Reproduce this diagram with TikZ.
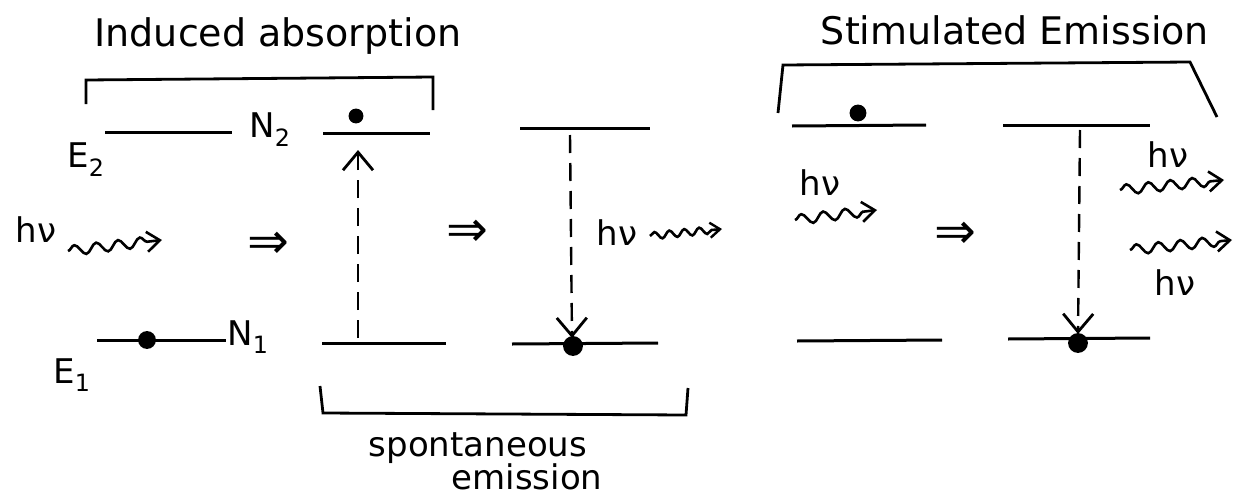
\documentclass[tikz,border=0pt]{standalone}
\usepackage{fontspec}
\setmainfont{DejaVu Sans}
\usetikzlibrary{arrows.meta,decorations.pathmorphing}
\begin{document}
\begin{tikzpicture}[x=1pt,y=-1pt,line width=2.8pt,
  level/.style={line width=3pt},
  brk/.style={line width=2.8pt},
  electron/.style={circle,fill=black,draw=black,inner sep=0pt,minimum size=#1},
  pump/.style={line width=2.4pt,dashed,dash pattern=on 18pt off 10pt,-{Straight Barb[length=18pt,width=30pt,line width=2.8pt]}},
  photon/.style={line width=2.6pt,decorate,decoration={snake,amplitude=5pt,segment length=22pt,post length=9pt},-{Straight Barb[length=13pt,width=20pt,line width=2.6pt]}},
  title/.style={font=\fontsize{38}{44}\selectfont},
  lbl/.style={font=\fontsize{34}{38}\selectfont,inner sep=0pt},
  implies/.style={font=\fontsize{50}{54}\selectfont,inner sep=0pt}]
\useasboundingbox[fill=white] (0,0) rectangle (1254,501);

% titles
\node[title] (t1) at (278,36) {Induced absorption};
\node[title] (t2) at (1015,30) {Stimulated Emission};

% brackets
\coordinate (b1a) at (86,104); \coordinate (b1b) at (86,80);
\coordinate (b1c) at (433,77); \coordinate (b1d) at (433,110);
\draw[brk] (b1a) -- (b1b) -- (b1c) -- (b1d);
\coordinate (b2a) at (778,113); \coordinate (b2b) at (783,65);
\coordinate (b2c) at (1190,62); \coordinate (b2d) at (1217,117);
\draw[brk] (b2a) -- (b2b) -- (b2c) -- (b2d);
\coordinate (b3a) at (320,386); \coordinate (b3b) at (323,413);
\coordinate (b3c) at (686,415); \coordinate (b3d) at (688,388);
\draw[brk] (b3a) -- (b3b) -- (b3c) -- (b3d);
\node[lbl,font=\fontsize{34}{38}\selectfont] (sp1) at (478,448) {spontaneous};
\node[lbl,font=\fontsize{34}{38}\selectfont] (sp2) at (527,477) {emission};

% ---------- Induced absorption ----------
\coordinate (u1a) at (105,132); \coordinate (u1b) at (232,132);
\draw[level] (u1a) -- (u1b);
\node[lbl] (n2) at (270,130) {N\textsubscript{2}};
\node[lbl] (e2) at (86,160) {E\textsubscript{2}};
\coordinate (u2a) at (323,133); \coordinate (u2b) at (430,133);
\draw[level] (u2a) -- (u2b);
\node[electron=12pt] (d1) at (356,116) {};
\coordinate (l1a) at (97,340); \coordinate (l1b) at (226,340);
\draw[level] (l1a) -- (l1b);
\node[electron=15pt] (d0) at (147,340) {};
\node[lbl] (n1) at (248,337) {N\textsubscript{1}};
\node[lbl] (e1) at (72,375) {E\textsubscript{1}};
\coordinate (l2a) at (322,343); \coordinate (l2b) at (446,343);
\draw[level] (l2a) -- (l2b);
\coordinate (pu0) at (358,338); \coordinate (pu1) at (358,150);
\draw[pump] (pu0) -- (pu1);
\node[lbl] (hv1) at (36,230) {hν};
\coordinate (w1a) at (68,251); \coordinate (w1b) at (162,240);
\draw[photon] (w1a) -- (w1b);
\node[implies] (im1) at (268,245) {⇒};
\node[implies] (im2) at (467,233) {⇒};

% ---------- Spontaneous emission ----------
\coordinate (u3a) at (520,128); \coordinate (u3b) at (650,128);
\draw[level] (u3a) -- (u3b);
\coordinate (l3a) at (512,344); \coordinate (l3b) at (658,343);
\draw[level] (l3a) -- (l3b);
\node[electron=17pt] (d3) at (573,346) {};
\coordinate (pd0) at (570,135); \coordinate (pd1) at (572,338);
\draw[pump] (pd0) -- (pd1);
\node[lbl] (hv2) at (617,233) {hν};
\coordinate (w2a) at (650,236); \coordinate (w2b) at (722,229);
\draw[photon,decoration={snake,amplitude=3.5pt,segment length=15pt,post length=8pt},-{Straight Barb[length=10pt,width=15pt,line width=2.4pt]}] (w2a) -- (w2b);

% ---------- Stimulated emission ----------
\coordinate (u4a) at (792,126); \coordinate (u4b) at (926,125);
\draw[level] (u4a) -- (u4b);
\node[electron=14pt] (d4) at (858,113) {};
\coordinate (l4a) at (797,341); \coordinate (l4b) at (942,340);
\draw[level] (l4a) -- (l4b);
\node[lbl] (hv3) at (820,183) {hν};
\coordinate (w3a) at (795,220); \coordinate (w3b) at (877,210);
\draw[photon] (w3a) -- (w3b);
\node[implies] (im3) at (955,235) {⇒};
\coordinate (u5a) at (1003,125); \coordinate (u5b) at (1150,125);
\draw[level] (u5a) -- (u5b);
\coordinate (l5a) at (1008,339); \coordinate (l5b) at (1150,338);
\draw[level] (l5a) -- (l5b);
\node[electron=17pt] (d5) at (1078,343) {};
\coordinate (pe0) at (1080,130); \coordinate (pe1) at (1078,334);
\draw[pump] (pe0) -- (pe1);
\node[lbl] (hv4) at (1168,155) {hν};
\coordinate (w4a) at (1120,190); \coordinate (w4b) at (1224,180);
\draw[photon] (w4a) -- (w4b);
\coordinate (w5a) at (1130,250); \coordinate (w5b) at (1232,240);
\draw[photon] (w5a) -- (w5b);
\node[lbl] (hv5) at (1175,283) {hν};
\end{tikzpicture}
\end{document}
